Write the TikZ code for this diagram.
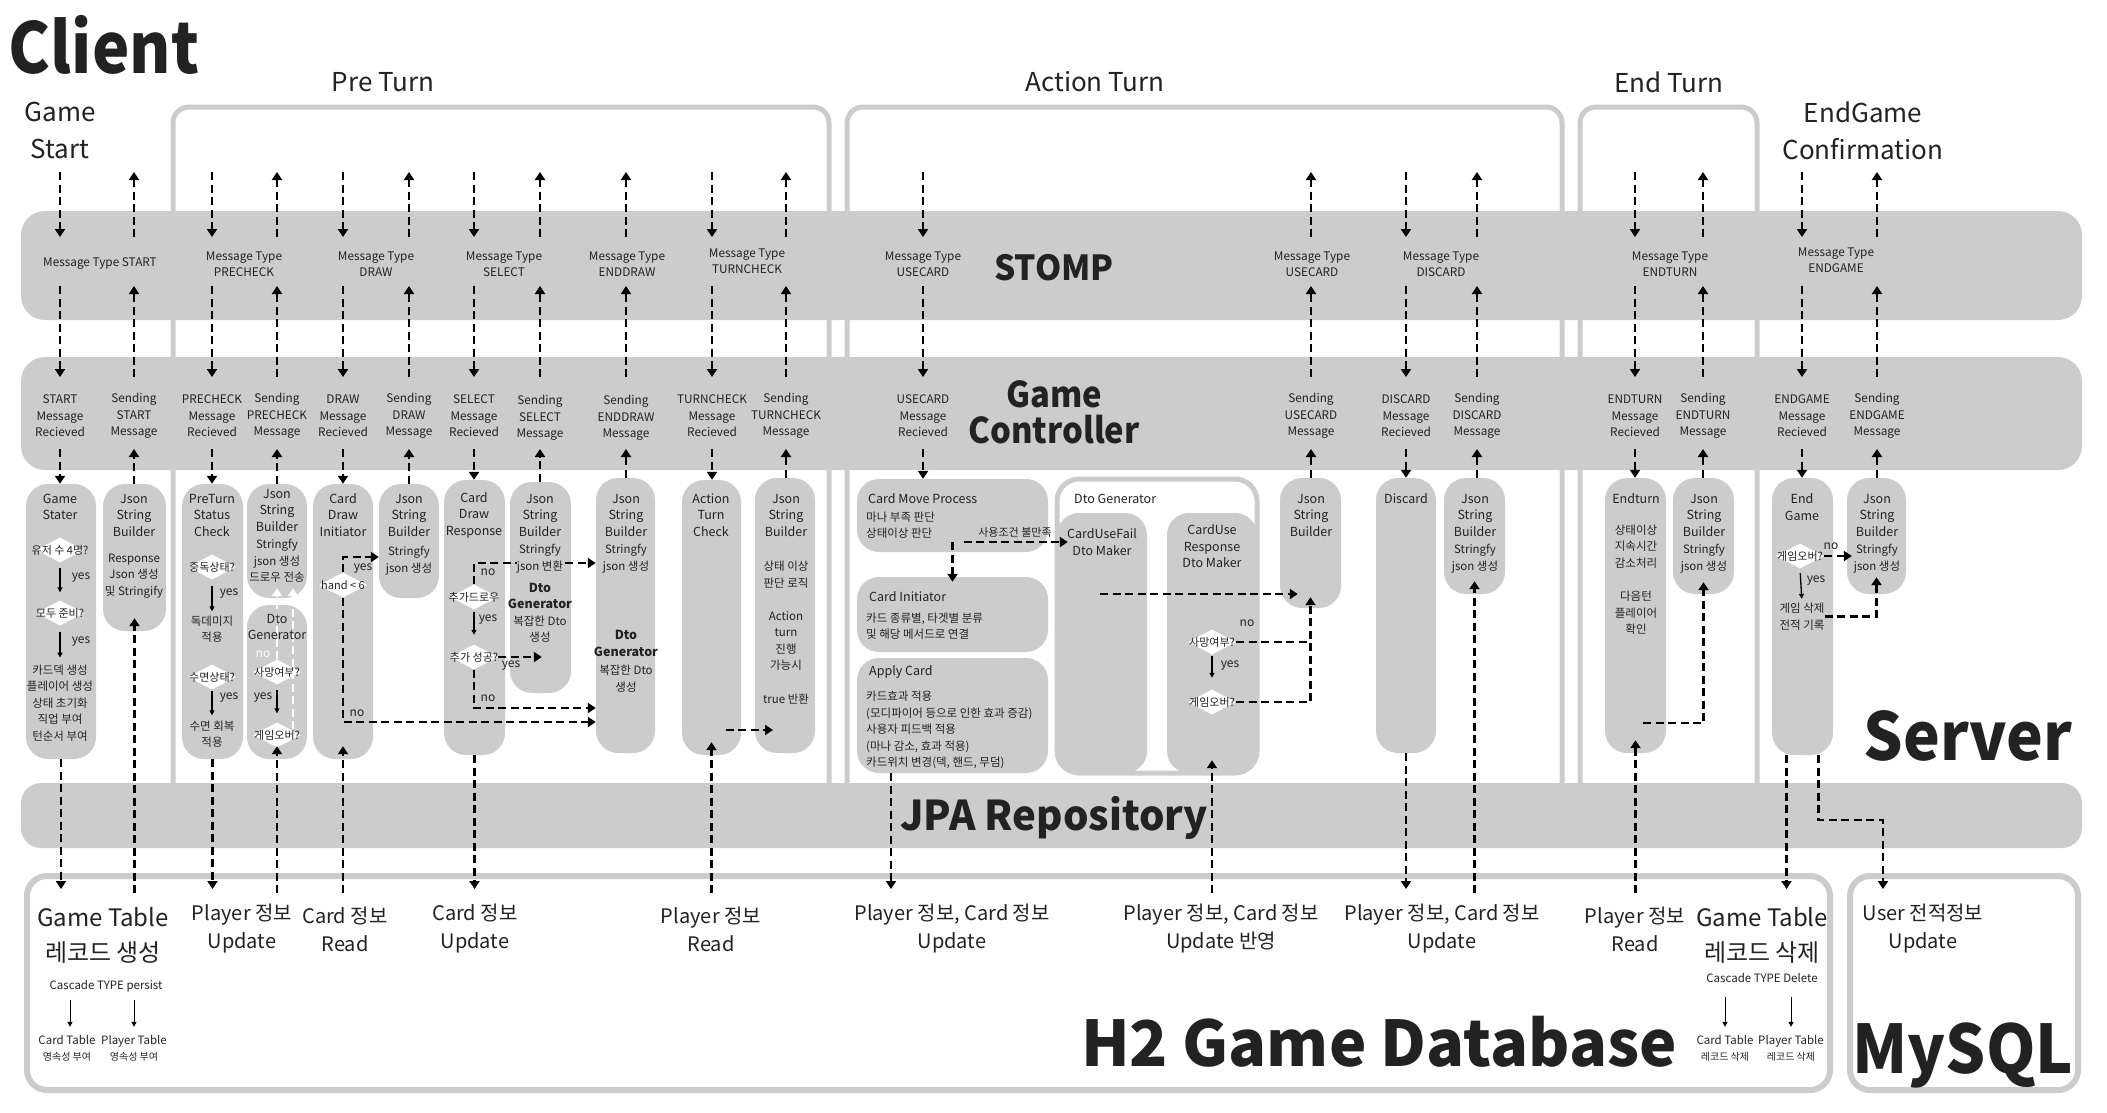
\documentclass[tikz,border=0pt]{standalone}
\usepackage{fontspec}
\setmainfont{Noto Sans CJK KR}
\usepackage{graphicx}
\usepackage{tikz}
\usetikzlibrary{positioning, arrows.meta, calc, shapes.geometric}
\definecolor{barg}{HTML}{CCCCCC}
\definecolor{ink}{HTML}{222222}
\newcommand{\fsz}[2]{\fontsize{#1}{#2}\selectfont}
\newcommand{\narrow}[2]{\scalebox{#1}[1]{#2}}
\tikzset{
  bar/.style   = {fill=barg, draw=none, rounded corners=24pt, inner sep=0pt},
  phase/.style = {draw=barg, line width=5pt, rounded corners=16pt},
  store/.style = {draw=barg, line width=6pt, rounded corners=20pt, inner sep=0pt},
  proc/.style  = {fill=barg, draw=none, rounded corners=22pt, inner sep=0pt},
  frm/.style   = {fill=white, draw=barg, line width=5pt, rounded corners=22pt, inner sep=0pt},
  msg/.style   = {font=\fsz{11.8}{16.5}, align=center, text=ink, inner sep=0pt},
  ttl/.style   = {font=\fsz{12.5}{16.5}, align=center, text=ink, inner sep=0pt},
  ttlb/.style  = {ttl, font=\bfseries\fsz{12.5}{16.5}},
  body/.style  = {font=\fsz{11.5}{16.5}, align=center, text=ink, inner sep=0pt},
  lft/.style   = {body, align=left, anchor=west},
  yn/.style    = {font=\fsz{12}{14}, text=ink, inner sep=0pt},
  ask/.style   = {font=\fsz{11}{13}, text=ink, inner sep=0pt},
  dia/.style   = {diamond, fill=white, minimum width=48pt, minimum height=25pt,
                  inner sep=0pt, label={[ask]center:#1}},
  dbt/.style   = {font=\fsz{20}{28}, align=center, text=ink, inner sep=0pt},
  note/.style  = {font=\fsz{11.5}{16}, align=center, text=ink, inner sep=0pt},
  hd/.style    = {font=\fsz{26}{37}, align=center, text=ink, inner sep=0pt},
  hero/.style  = {text=ink, inner sep=0pt, anchor=base},
  flow/.style  = {line width=2.3pt, dash pattern=on 8pt off 4.5pt,
                  -{Triangle[length=8pt,width=10pt]}},
  wflow/.style = {flow, white},
  link/.style  = {line width=2.3pt, dash pattern=on 8pt off 4.5pt},
  tarr/.style  = {line width=1.3pt, -{Triangle[length=5pt,width=5pt]}},
}

\begin{document}
\begin{tikzpicture}[x=1pt, y=-1pt]
  \useasboundingbox (0,0) rectangle (2107,1112);
  % phase frames
  \draw[phase] (173,790) -- (173,107) -- (829,107) -- (829,790);
  \draw[phase] (847,790) -- (847,107) -- (1562,107) -- (1562,790);
  \draw[phase] (1580,790) -- (1580,107) -- (1757,107) -- (1757,790);
  % layers
  \node[bar, minimum width=2061, minimum height=109] (stomp) at (1051.5,265.5) {};
  \node[bar, minimum width=2061, minimum height=113] (ctrl) at (1051.5,413.5) {};
  \node[bar, minimum width=2061, minimum height=65, rounded corners=20pt] (jpa) at (1051.5,815.5) {};
  \node[store, minimum width=1803, minimum height=214] (h2) at (928.5,983) {};
  \node[store, minimum width=228, minimum height=214] (mysql) at (1964,983) {};

  \node[hero, font=\bfseries\fsz{70}{75}] (clientt) at (104,73) {\narrow{0.9}{Client}};
  \node[hero, font=\bfseries\fsz{34.5}{40}] (stompt) at (1054,280) {\narrow{0.97}{STOMP}};
  \node[hero, font=\bfseries\fsz{35.5}{40}] (ctrlt1) at (1054,407) {\narrow{0.925}{Game}};
  \node[hero, font=\bfseries\fsz{35.5}{40}] (ctrlt2) at (1054,443) {\narrow{0.925}{Controller}};
  \node[hero, font=\bfseries\fsz{66}{70}] (servert) at (1968,760) {\narrow{0.94}{Server}};
  \node[hero, font=\bfseries\fsz{41}{45}] (jpat) at (1054,830) {\narrow{0.98}{JPA Repository}};
  \node[hero, font=\bfseries\fsz{63}{66}] (h2t) at (1379,1066) {H2 Game Database};
  \node[hero, font=\bfseries\fsz{67}{70}] (mysqlt) at (1963,1073) {\narrow{0.94}{MySQL}};

  \node[hd] (gs) at (60,130.5) {Game\\Start};
  \node[hd] (pret) at (383,82) {Pre Turn};
  \node[hd] (actt) at (1095,82) {Action Turn};
  \node[hd] (endt) at (1669,82) {End Turn};
  \node[hd] (egc) at (1863,130.5) {EndGame\\Confirmation};

  % STOMP messages
  \node[msg] (mstart) at (100,264) {Message Type START};
  \node[msg] (mpre) at (244,264) {Message Type\\PRECHECK};
  \node[msg] (mdraw) at (376,264) {Message Type\\DRAW};
  \node[msg] (msel) at (504,264) {Message Type\\SELECT};
  \node[msg] (medraw) at (627,264) {Message Type\\ENDDRAW};
  \node[msg] (mtc) at (747,261) {Message Type\\TURNCHECK};
  \node[msg] (muse) at (923,264) {Message Type\\USECARD};
  \node[msg] (muse2) at (1312,264) {Message Type\\USECARD};
  \node[msg] (mdis) at (1441,264) {Message Type\\DISCARD};
  \node[msg] (mend) at (1670,264) {Message Type\\ENDTURN};
  \node[msg] (mgame) at (1836,260) {Message Type\\ENDGAME};

  % controller messages
  \node[msg] (rstart) at (60,416) {START\\Message\\Recieved};
  \node[msg] (sstart) at (134,416) {Sending\\START\\Message};
  \node[msg] (rpre) at (212,416) {PRECHECK\\Message\\Recieved};
  \node[msg] (spre) at (277,416) {Sending\\PRECHECK\\Message};
  \node[msg] (rdraw) at (343,416) {DRAW\\Message\\Recieved};
  \node[msg] (sdraw) at (409,416) {Sending\\DRAW\\Message};
  \node[msg] (rsel) at (474,416) {SELECT\\Message\\Recieved};
  \node[msg] (ssel) at (540,418) {Sending\\SELECT\\Message};
  \node[msg] (sedraw) at (626,418) {Sending\\ENDDRAW\\Message};
  \node[msg] (rtc) at (712,416) {TURNCHECK\\Message\\Recieved};
  \node[msg] (stc) at (786,416) {Sending\\TURNCHECK\\Message};
  \node[msg] (ruse) at (923,416) {USECARD\\Message\\Recieved};
  \node[msg] (suse) at (1311,416) {Sending\\USECARD\\Message};
  \node[msg] (rdis) at (1406,416) {DISCARD\\Message\\Recieved};
  \node[msg] (sdis) at (1477,416) {Sending\\DISCARD\\Message};
  \node[msg] (rend) at (1635,416) {ENDTURN\\Message\\Recieved};
  \node[msg] (send) at (1703,416) {Sending\\ENDTURN\\Message};
  \node[msg] (rgame) at (1802,416) {ENDGAME\\Message\\Recieved};
  \node[msg] (sgame) at (1877,416) {Sending\\ENDGAME\\Message};

  \coordinate (cli) at (0,172);
  \coordinate (stin) at (0,237);
  \coordinate (stout) at (0,286);
  \coordinate (ctin) at (0,377);
  \coordinate (ctout) at (0,449);
  \coordinate (dbin) at (0,889);
  \coordinate (dbout) at (0,893);

  % server: game start
  \node[proc, minimum width=70, minimum height=275] (gstart) at (61,621.5) {};
  \node[ttl] (gstartt) at (60,507) {Game\\Stater};
  \node[dia=유저 수 4명?] (q1) at (60,550) {};
  \node[dia=모두 준비?] (q2) at (60,613) {};
  \node[body] (ginit) at (60,703) {카드덱 생성\\플레이어 생성\\상태 초기화\\직업 부여\\턴순서 부여};
  \draw[tarr, shorten <=5pt, shorten >=8pt] (q1.south) -- (q2.north);
  \draw[tarr, shorten <=6pt, shorten >=7pt] (q2.south) -- (ginit.north);
  \node[yn] (qy1) at (81,578) {yes};
  \node[yn] (qy2) at (81,642) {yes};
  \node[proc, minimum width=63, minimum height=147] (jsb0) at (134.5,557.5) {};
  \node[ttl] (jsb0t) at (134,515) {Json\\String\\Builder};
  \node[body] (jsb0b) at (134,576) {Response\\Json 생성\\및 Stringify};

  % server: pre turn
  \node[proc, minimum width=61, minimum height=275] (precheck) at (212.5,621.5) {};
  \node[ttl] (precheckt) at (212,515) {PreTurn\\Status\\Check};
  \node[dia=중독상태?] (p1) at (212,567) {};
  \node[body] (p1a) at (212,629) {독데미지\\적용};
  \node[dia=수면상태?] (p2) at (212,677) {};
  \node[body] (p2a) at (212,734) {수면 회복\\적용};
  \draw[tarr, shorten <=6pt, shorten >=4pt] (p1.south) -- (p1a.north);
  \draw[tarr, shorten <=1pt, shorten >=5pt] (p2.south) -- (p2a.north);
  \node[yn] (py1) at (229,594) {yes};
  \node[yn] (py2) at (229,698) {yes};

  \node[proc, minimum width=60, minimum height=114] (jsb1) at (277,541) {};
  \node[ttl] (jsb1t) at (277,510) {Json\\String\\Builder};
  \node[body] (jsb1b) at (277,561) {Stringfy\\json 생성\\드로우 전송};
  \node[proc, minimum width=60, minimum height=154] (dto1) at (277,682) {};
  \node[dia=사망여부?] (d1) at (277,672) {};
  \node[dia=게임오버?] (d2) at (277,735) {};
  \draw[tarr, shorten <=5pt, shorten >=9pt] (d1.south) -- (d2.north);
  \draw[wflow, shorten >=-10pt] (d1.north) -- (d1.north |- jsb1.south);
  \draw[wflow, shorten <=6pt, shorten >=-10pt] ([xshift=16pt]d2.center) -- ([xshift=16pt]jsb1.south);
  \node[ttl] (dto1t) at (277,627) {Dto\\Generator};
  \node[yn, text=white] (dn1) at (263,654) {no};
  \node[yn] (dy1) at (263,698) {yes};

  \node[proc, minimum width=60, minimum height=275] (cdi) at (343,621.5) {};
  \node[ttl] (cdit) at (343,515) {Card\\Draw\\Initiator};
  \node[dia=hand < 6] (h1) at (343,585) {};
  \node[proc, minimum width=60, minimum height=114] (jsb2) at (409,541) {};
  \node[ttl] (jsb2t) at (409,515) {Json\\String\\Builder};
  \node[body] (jsb2b) at (409,560.5) {Stringfy\\json 생성};

  \node[proc, minimum width=61, minimum height=275] (cdr) at (474.5,617.5) {};
  \node[ttl] (cdrt) at (474,515) {Card\\Draw\\Response};
  \node[dia=추가드로우] (r1) at (474,597) {};
  \node[dia=추가 성공?] (r2) at (474,657) {};
  \node[proc, minimum width=61, minimum height=211] (jsb3) at (540.5,587.5) {};
  \node[ttl] (jsb3t) at (540,515) {Json\\String\\Builder};
  \node[ttlb] (jsb3d) at (540,596) {Dto\\Generator};
  \node[body] (jsb3c) at (540,629) {복잡한 Dto\\생성};
  \node[proc, minimum width=59, minimum height=275] (jsb4) at (625.5,615.5) {};
  \node[ttl] (jsb4t) at (626,515) {Json\\String\\Builder};
  \node[body] (jsb4b) at (626,558.5) {Stringfy\\json 생성};
  \node[ttlb] (jsb4d) at (626,643.5) {Dto\\Generator};
  \node[body] (jsb4c) at (626,678.5) {복잡한 Dto\\생성};

  \draw[flow] (h1.north) |- ([yshift=-16pt]jsb2.west);
  \draw[flow] (h1.south) |- ([yshift=-106.5pt]jsb4.west);
  \node[yn] (hy) at (363,569) {yes};
  \node[yn] (hn) at (357,713) {no};
  \draw[flow] (r1.north) |- ([yshift=52.5pt]jsb4.west);
  \draw[tarr, shorten <=2.5pt, shorten >=9.5pt] (r1.south) -- (r2.north);
  \draw[flow, shorten >=-32pt] (r2.east) -- (r2.east -| jsb3.west);
  \draw[flow] (r2.south) |- ([yshift=-92.5pt]jsb4.west);
  \node[yn] (rn1) at (488,572) {no};
  \node[yn] (ry1) at (488,620) {yes};
  \node[yn] (ry2) at (511,666) {yes};
  \node[yn] (rn2) at (488,698) {no};
  \node[body, fill=barg] (jsb3b) at (540,558.5) {Stringfy\\json 변환};

  \node[proc, minimum width=59, minimum height=275] (atc) at (711.5,617.5) {};
  \node[ttl] (atct) at (711,515) {Action\\Turn\\Check};
  \node[proc, minimum width=60, minimum height=275] (jsb5) at (785,615.5) {};
  \node[ttl] (jsb5t) at (786,515) {Json\\String\\Builder};
  \node[body] (jsb5a) at (786,574.5) {상태 이상\\판단 로직};
  \node[body] (jsb5b) at (786,641) {Action\\turn\\진행\\가능시};
  \node[body] (jsb5c) at (786,699) {true 반환};
  \draw[flow] ($(atc)+(14,112.5)$) -- ($(jsb5)+(-12,114.5)$);

  % server: action turn
  \node[proc, minimum width=191, minimum height=73] (cmp) at (952.5,515.5) {};
  \node[ttl, anchor=west] (cmpt) at (868,499) {Card Move Process};
  \node[lft] (cmpb) at (866,525) {마나 부족 판단\\상태이상 판단};
  \node[proc, minimum width=191, minimum height=75] (cinit) at (952.5,614.5) {};
  \node[ttl, anchor=west] (cinitt) at (869,597) {Card Initiator};
  \node[lft] (cinitb) at (866,626) {카드 종류별, 타겟별 분류\\및 해당 메서드로 연결};
  \node[proc, minimum width=191, minimum height=115] (apply) at (952.5,715.5) {};
  \node[ttl, anchor=west] (applyt) at (869,672) {Apply Card};
  \node[lft] (applyb) at (866,730) {카드효과 적용\\(모디파이어 등으로 인한 효과 증감)\\사용자 피드백 적용\\(마나 감소, 효과 적용)\\카드위치 변경(덱, 핸드, 무덤)};

  \node[frm, minimum width=200, minimum height=294] (dtogen) at (1157,626) {};
  \node[ttl, anchor=west] (dtogent) at (1074,499) {Dto Generator};
  \node[proc, minimum width=90, minimum height=260] (fail) at (1102,643) {};
  \node[ttl] (failt) at (1102,542) {CardUseFail\\Dto Maker};
  \node[proc, minimum width=90, minimum height=260] (resp) at (1212,643) {};
  \node[ttl] (respt) at (1212,546.5) {CardUse\\Response\\Dto Maker};
  \node[dia=사망여부?] (s1) at (1212,642) {};
  \node[dia=게임오버?] (s2) at (1212,702) {};
  \node[yn] (sn) at (1247,623) {no};
  \node[yn] (sy) at (1230,666) {yes};
  \node[proc, minimum width=61, minimum height=130] (jsb6) at (1310.5,543) {};
  \node[ttl] (jsb6t) at (1311,515) {Json\\String\\Builder};

  \coordinate (cmpfork) at (952.5,542);
  \node[ask] (failcond) at (1015,532) {사용조건 불만족};
  \draw[flow, shorten >=-11pt] ([xshift=11pt]cmpfork) -- (cmpfork -| fail.west);
  \draw[flow, shorten >=-5pt] (cmpfork) -- (cmpfork |- cinit.north);
  \coordinate (failout) at (1100,594);
  \draw[flow, shorten >=-18pt] (failout) -- (failout -| jsb6.west);
  \draw[tarr, shorten <=1pt, shorten >=11.5pt] (s1.south) -- (s2.north);
  \draw[link] (s1.east) -- (s1.east -| jsb6.south);
  \draw[flow, shorten >=-11pt] (s2.east) -| (jsb6.south);

  \node[proc, minimum width=60, minimum height=275] (discard) at (1406,615.5) {};
  \node[ttl] (discardt) at (1406,499) {Discard};
  \node[proc, minimum width=61, minimum height=116] (jsb7) at (1474.5,536) {};
  \node[ttl] (jsb7t) at (1475,515) {Json\\String\\Builder};
  \node[body] (jsb7b) at (1475,558.5) {Stringfy\\json 생성};

  % server: end turn
  \node[proc, minimum width=61, minimum height=275] (endturn) at (1635.5,615.5) {};
  \node[ttl] (endturnt) at (1636,499) {Endturn};
  \node[body] (endturna) at (1636,546.5) {상태이상\\지속시간\\감소처리};
  \node[body] (endturnb) at (1636,613) {다음턴\\플레이어\\확인};
  \node[proc, minimum width=61, minimum height=116] (jsb8) at (1703.5,536) {};
  \node[ttl] (jsb8t) at (1704,515) {Json\\String\\Builder};
  \node[body] (jsb8b) at (1704,558.5) {Stringfy\\json 생성};
  \coordinate (etout) at (1643,723);
  \draw[flow, shorten >=-12pt] (etout) -| (jsb8.south);

  % server: end game
  \node[proc, minimum width=61, minimum height=277] (endgame) at (1802.5,616.5) {};
  \node[ttl] (endgamet) at (1802,507) {End\\Game};
  \node[dia=게임오버?] (e1) at (1800,556) {};
  \node[body] (egtxt) at (1802,616.5) {게임 삭제\\전적 기록};
  \node[proc, minimum width=59, minimum height=116] (jsb9) at (1876.5,536) {};
  \node[ttl] (jsb9t) at (1877,515) {Json\\String\\Builder};
  \node[body] (jsb9b) at (1877,558.5) {Stringfy\\json 생성};
  \draw[flow, shorten >=-5pt] (e1.east) -- (e1.east -| jsb9.west);
  \draw[tarr, shorten <=4.5pt, shorten >=4pt] (e1.south) -- (egtxt.north);
  \draw[flow, shorten >=-17pt] (egtxt.east) -| (jsb9.south);
  \node[yn] (en) at (1831,546) {no};
  \node[yn] (ey) at (1816,581) {yes};

  % client <-> stomp <-> controller
  \foreach \n in {rstart,rpre,rdraw,rsel,rtc,ruse,rdis,rend,rgame}{
    \draw[flow] (cli -| \n) -- (stin -| \n);
    \draw[flow] (stout -| \n) -- (ctin -| \n);
  }
  \foreach \n in {sstart,spre,sdraw,ssel,sedraw,stc,suse,sdis,send,sgame}{
    \draw[flow] (stin -| \n) -- (cli -| \n);
    \draw[flow] (ctin -| \n) -- (stout -| \n);
  }
  % controller <-> server
  \foreach \n/\b in {rstart/gstart, rpre/precheck, rdraw/cdi, rsel/cdr, rtc/atc,
                     ruse/cmp, rdis/discard, rend/endturn, rgame/endgame}{
    \draw[flow] (ctout -| \n) -- (\n |- \b.north);
  }
  \foreach \n/\b in {sstart/jsb0, spre/jsb1, sdraw/jsb2, ssel/jsb3, sedraw/jsb4,
                     stc/jsb5, suse/jsb6, sdis/jsb7, send/jsb8, sgame/jsb9}{
    \draw[flow] (\n |- \b.north) -- (ctout -| \n);
  }

  % database
  \node[dbt, font=\fsz{24}{35}] (gtc) at (103,935.5) {Game Table\\레코드 생성};
  \node[note] (cascp) at (106,986) {Cascade TYPE persist};
  \node[note] (ct1) at (67,1048) {Card Table\\{\fsz{10}{16}영속성 부여}};
  \node[note] (pt1) at (134,1048) {Player Table\\{\fsz{10}{16}영속성 부여}};
  \draw[tarr, line width=1pt, shorten <=8pt, shorten >=8pt] (cascp.south -| 70,0) -- (ct1.north -| 70,0);
  \draw[tarr, line width=1pt, shorten <=8pt, shorten >=8pt] (cascp.south -| pt1) -- (pt1.north);
  \node[dbt] (pu1) at (242,929) {Player 정보\\Update};
  \node[dbt] (cr1) at (345,929) {Card 정보\\Read};
  \node[dbt] (cu1) at (475,929) {Card 정보\\Update};
  \node[dbt] (pr1) at (711,929) {Player 정보\\Read};
  \node[dbt] (pcu1) at (952,929) {Player 정보, Card 정보\\Update};
  \node[dbt] (pcu2) at (1221,929) {Player 정보, Card 정보\\Update 반영};
  \node[dbt] (pcu3) at (1442,929) {Player 정보, Card 정보\\Update};
  \node[dbt] (pr2) at (1635,929) {Player 정보\\Read};
  \node[dbt, font=\fsz{24}{35}] (gtd) at (1762,935.5) {Game Table\\레코드 삭제};
  \node[note] (cascd) at (1762,978) {Cascade TYPE Delete};
  \node[note] (ct2) at (1725,1048) {Card Table\\{\fsz{10}{16}레코드 삭제}};
  \node[note] (pt2) at (1791,1048) {Player Table\\{\fsz{10}{16}레코드 삭제}};
  \draw[tarr, line width=1pt, shorten <=14pt, shorten >=8pt] (cascd.south -| ct2) -- (ct2.north);
  \draw[tarr, line width=1pt, shorten <=14pt, shorten >=8pt] (cascd.south -| pt2) -- (pt2.north);
  \node[dbt] (usr) at (1923,929) {User 전적정보\\Update};

  % server <-> database
  \draw[flow] (gstart.south) -- (gstart.south |- dbin);
  \draw[flow] (precheck.south) -- (precheck.south |- dbin);
  \draw[flow] (cdr.south) -- (cdr.south |- dbin);
  \draw[flow] ([xshift=-61.5pt]apply.south) -- ([xshift=-61.5pt]apply.south |- dbin);
  \draw[flow] (discard.south) -- (discard.south |- dbin);
  \draw[flow] ([xshift=-16pt]endgame.south) -- ([xshift=-16pt]endgame.south |- dbin);
  \coordinate (mysqlin) at (1883,889);
  \draw[flow] ([xshift=16pt]endgame.south) |- ($(mysqlin)+(0,-69)$) -- (mysqlin);
  \foreach \b in {jsb0, dto1, cdi, atc, resp, jsb7, endturn}{
    \draw[flow, shorten >=-13pt] (\b.south |- dbout) -- (\b.south);
  }
\end{tikzpicture}
\end{document}
